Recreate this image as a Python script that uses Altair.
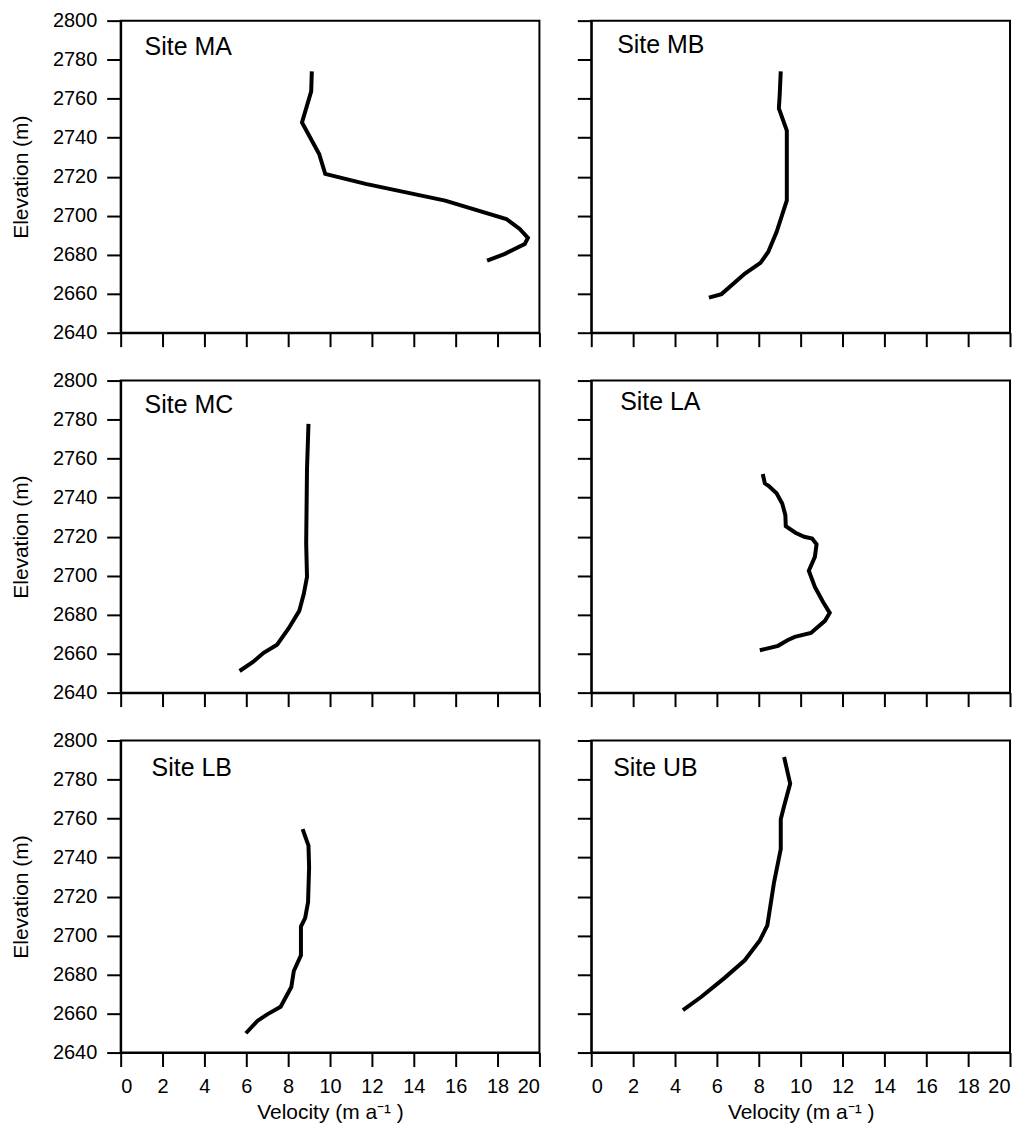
import altair as alt
import pandas as pd

FONT = "Liberation Sans"

site_names = ["Site MA", "Site MB", "Site MC", "Site LA", "Site LB", "Site UB"]

x_ticks = [0, 2, 4, 6, 8, 10, 12, 14, 16, 18, 20]
y_ticks = [2640, 2660, 2680, 2700, 2720, 2740, 2760, 2780, 2800]

ma_vel = [9.13, 9.1, 8.66, 9.48, 9.77, 11.7, 15.5, 18.42, 19.06, 19.45, 19.3, 18.35, 17.5]
ma_elev = [2774, 2763.7, 2747.8, 2731.6, 2721.4, 2716.3, 2707.7, 2698.3, 2693.2, 2688.6, 2685.5, 2680.4, 2676.9]

mb_vel = [9.05, 9.0, 8.96, 9.34, 9.34, 8.85, 8.45, 8.08, 7.34, 6.22, 5.62]
mb_elev = [2774, 2762, 2755, 2743.6, 2707.8, 2691.6, 2681.4, 2675.8, 2670.3, 2659.8, 2658]

mc_vel = [8.97, 8.9, 8.86, 8.9, 8.75, 8.53, 8.02, 7.47, 6.83, 6.32, 5.68]
mc_elev = [2777.8, 2755, 2716.5, 2699.4, 2690.8, 2681.9, 2672.9, 2664.6, 2660.4, 2655.7, 2651.1]

la_vel = [8.19, 8.29, 8.48, 8.85, 9.12, 9.27, 9.29, 9.75, 10.17, 10.55, 10.76, 10.68, 10.39,
          10.68, 11.07, 11.39, 11.16, 10.49, 9.72, 9.37, 8.92, 8.05]
la_elev = [2752.1, 2747.3, 2745.9, 2742.2, 2737, 2731, 2725.4, 2722, 2719.9, 2719, 2716.1, 2709.6, 2702.5,
           2694.2, 2686.5, 2680.9, 2676.8, 2670.6, 2668.6, 2666.9, 2664, 2661.7]

lb_vel = [8.69, 8.97, 9.0, 8.95, 8.81, 8.61, 8.61, 8.27, 8.15, 7.64, 7.0, 6.53, 5.98]
lb_elev = [2754.6, 2746.1, 2735, 2717.1, 2708.9, 2704.6, 2689.8, 2681.8, 2673.6, 2663.5, 2659.6, 2656.2, 2649.9]

ub_vel = [9.21, 9.5, 9.21, 9.05, 9.05, 8.73, 8.41, 8.05, 7.33, 6.37, 5.26, 4.38]
ub_elev = [2791.5, 2777.9, 2766.4, 2759.6, 2744.3, 2727.3, 2705.2, 2697.5, 2687.3, 2678.3, 2668.6, 2661.8]

series = [
    (ma_vel, ma_elev), (mb_vel, mb_elev),
    (mc_vel, mc_elev), (la_vel, la_elev),
    (lb_vel, lb_elev), (ub_vel, ub_elev),
]

label_offsets = [(24, 26), (26, 24), (24, 25), (29, 22), (31, 28), (22, 28)]

W, H = 420, 313


def panel(idx):
    name = site_names[idx]
    vel, elev = series[idx]
    left = idx % 2 == 0
    bottom = idx >= 4
    df = pd.DataFrame({"v": vel, "e": elev, "i": list(range(len(vel)))})

    x_axis_kw = dict(values=x_ticks, labels=bottom, grid=False, format="d", titlePadding=5)
    if bottom:
        x_axis_kw["title"] = "Velocity (m a\u207b\u00b9 )"
    else:
        x_axis_kw["title"] = None
    y_axis_kw = dict(values=y_ticks, labels=left, grid=False, format="d", titlePadding=21)
    if left:
        y_axis_kw["title"] = "Elevation (m)"
    else:
        y_axis_kw["title"] = None

    line = alt.Chart(df).mark_line(color="black", strokeWidth=4, strokeCap="butt").encode(
        x=alt.X("v:Q", scale=alt.Scale(domain=[0, 20], nice=False, zero=False),
                axis=alt.Axis(**x_axis_kw)),
        y=alt.Y("e:Q", scale=alt.Scale(domain=[2640, 2800], nice=False, zero=False),
                axis=alt.Axis(**y_axis_kw)),
        order="i:Q",
    )
    lx, ly = label_offsets[idx]
    text = alt.Chart(pd.DataFrame({"label": [name]})).mark_text(
        align="left", baseline="middle", fontSize=25, font=FONT, color="black"
    ).encode(x=alt.value(lx), y=alt.value(ly), text="label:N")
    return alt.layer(line, text).properties(width=W, height=H)


rows = []
for r in range(3):
    rows.append(alt.hconcat(panel(2 * r), panel(2 * r + 1), spacing=34))

chart = alt.vconcat(*rows, spacing=21).properties(
    padding={"left": 1, "top": 0, "right": 5, "bottom": 5}
).configure_axis(
    domainColor="black",
    domainWidth=2,
    tickColor="black",
    tickWidth=2,
    tickSize=14,
    labelFont=FONT,
    labelFontSize=20,
    labelColor="black",
    labelPadding=10,
    titleFont=FONT,
    titleFontSize=21,
    titleFontWeight="normal",
    titleColor="black",
).configure_view(stroke="black", strokeWidth=2)

chart.save("out.html", embed_options={"renderer": "svg", "actions": False})
